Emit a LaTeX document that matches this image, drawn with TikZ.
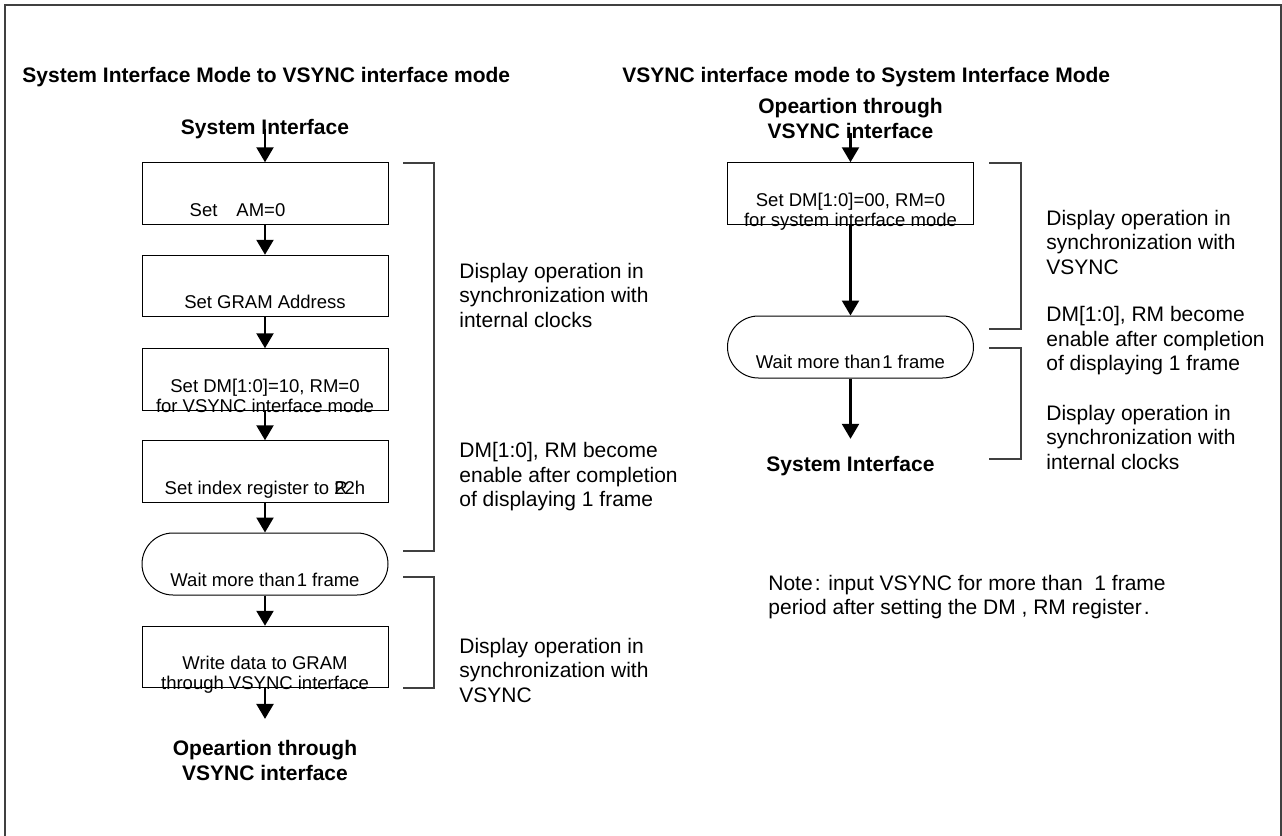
\documentclass[tikz,border=0pt]{standalone}
\usepackage{fontspec}
\setmainfont{Liberation Sans}
\usetikzlibrary{arrows.meta}

\tikzset{
  stepbox/.style={draw, line width=0.5pt, minimum width=123pt, minimum height=30.75pt, inner sep=0pt, font=\fontsize{9.25}{10}\selectfont},
  waitbox/.style={stepbox, rounded corners=15.5pt, minimum height=31pt},
  head/.style={font=\fontsize{10.5}{12.5}\selectfont\bfseries, align=center, inner sep=0pt},
  remark/.style={font=\fontsize{10.5}{12.25}\selectfont, align=left, anchor=west, inner sep=0pt},
  flow/.style={-{Triangle[length=7.5pt,width=8.5pt]}, line width=1.2pt},
  bracket/.style={draw=black!75, line width=0.6pt},
  frame/.style={draw=black!75, line width=1.2pt}
}
\newcommand{\lowtext}[2][11.25pt]{\raisebox{-#1}[0pt][0pt]{\begin{tabular}[b]{@{}c@{}}#2\end{tabular}}}

\begin{document}
\begin{tikzpicture}[x=0.5pt, y=-0.5pt]

\useasboundingbox (0,0) rectangle (1282,836);
\draw[frame] (5,836) -- (5,5) -- (1281,5) -- (1281,836);

\node[head, anchor=west] (tl) at (22,77) {System Interface Mode to VSYNC interface mode};
\node[head, anchor=west] (tr) at (622,77) {VSYNC interface mode to System Interface Mode};

\node[head] (sysl) at (265,129) {System Interface};
\node[stepbox] (b1) at (265,193.5) {\lowtext{Set\hspace{9.5pt}AM=0\kern27.5pt}};
\node[stepbox] (b2) at (265,286) {\lowtext{Set GRAM Address}};
\node[stepbox] (b3) at (265,379.5) {\lowtext[16.5pt]{Set DM[1:0]=10, RM=0\\for VSYNC interface mode}};
\node[stepbox] (b4) at (265,471.5) {\lowtext{Set index register to \rlap{R}22h}};
\node[waitbox] (w1) at (265,564) {\lowtext{Wait more than\kern0.8pt 1 frame}};
\node[stepbox] (b5) at (265,657) {\lowtext[16pt]{Write data to GRAM\\through VSYNC interface}};
\node[head] (opl) at (265,760.5) {Opeartion through\\VSYNC interface};

\draw[flow] (sysl.center) -- (b1);
\draw[flow] (b1) -- (b2);
\draw[flow] (b2) -- (b3);
\draw[flow] (b3) -- (b4);
\draw[flow] (b4) -- (w1);
\draw[flow] (w1) -- (b5);
\draw[flow] (b5) -- ([yshift=10.5pt]opl.north);

\draw[bracket] (403,163) -- (434,163) -- (434,551) -- (403,551);
\draw[bracket] (403,577) -- (434,577) -- (434,688) -- (403,688);

\node[remark] (rl1) at (459,295) {Display operation in\\synchronization with\\internal clocks};
\node[remark] (rl2) at (459,477) {DM[1:0], RM become\\enable after completion\\of displaying 1 frame};
\node[remark] (rl3) at (459,670) {Display operation in\\synchronization with\\VSYNC};

\node[head] (opr) at (850.5,118.5) {Opeartion through\\VSYNC interface};
\node[stepbox] (r1) at (850.5,193.5) {\lowtext[16.5pt]{Set DM[1:0]=00, RM=0\\for system interface mode}};
\node[waitbox] (w2) at (850.5,347) {\lowtext[10.75pt]{Wait more than\kern0.8pt 1 frame}};
\node[head] (sysr) at (850.5,466) {System Interface};

\draw[flow] ([yshift=3pt]opr.south) -- (r1);
\draw[flow] (r1) -- (w2);
\draw[flow] (w2) -- ([yshift=8.5pt]sysr.north);

\draw[bracket] (989,163) -- (1021,163) -- (1021,329) -- (989,329);
\draw[bracket] (989,348) -- (1021,348) -- (1021,459) -- (989,459);

\node[remark] (rr1) at (1046,242) {Display operation in\\synchronization with\\VSYNC};
\node[remark] (rr2) at (1046,341) {DM[1:0], RM become\\enable after completion\\of displaying 1 frame};
\node[remark] (rr3) at (1046,437) {Display operation in\\synchronization with\\internal clocks};

\node[remark, font=\fontsize{10.5}{12}\selectfont] (note) at (768,597) {Note\kern1pt: input VSYNC for more than\ \ 1 frame\\period after setting the DM , RM register\kern1pt.};

\end{tikzpicture}
\end{document}
